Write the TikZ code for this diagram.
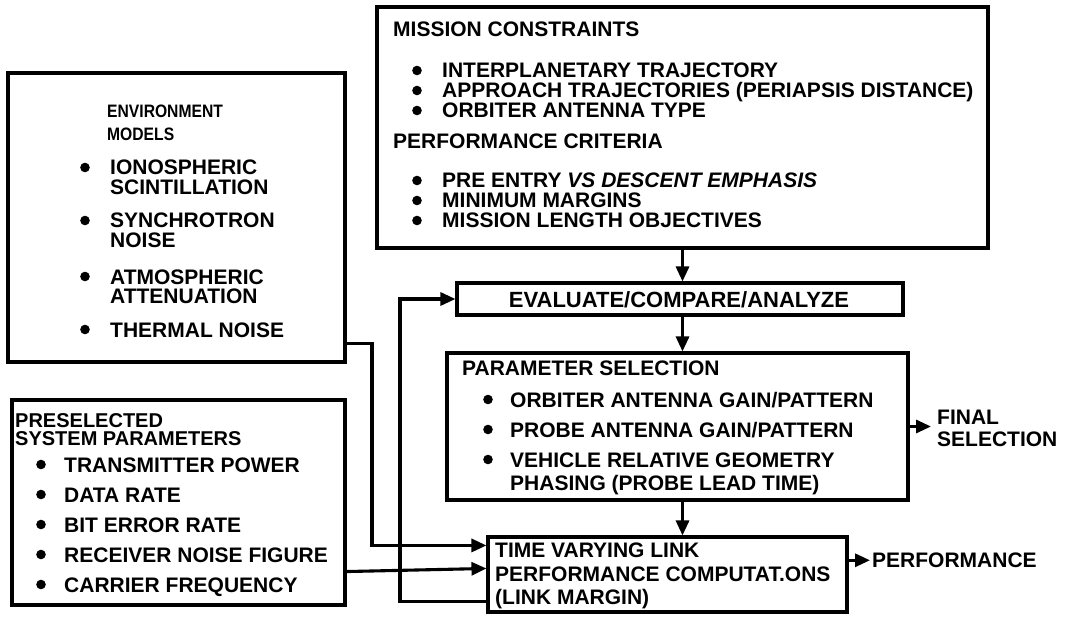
\documentclass[tikz,border=0pt]{standalone}
\usepackage{fontspec}
\setmainfont{Liberation Sans}
\newfontfamily\hdrfont{Liberation Sans}[FakeStretch=0.87]
\usetikzlibrary{arrows.meta,calc}
\begin{document}
\begin{tikzpicture}[x=1pt,y=-1pt,
  box/.style={draw, line width=3.1pt, inner sep=0pt, rectangle},
  txt/.style={inner sep=0pt, anchor=base west, font=\fontsize{21}{21}\selectfont\bfseries},
  hdr/.style={txt, font=\hdrfont\fontsize{18}{18}\selectfont\bfseries},
  conn/.style={line width=3.1pt, -{Triangle[length=15pt,width=13pt]}},
  bul/.style={fill=black}
]
\path[use as bounding box] (0,0) rectangle (1067,617);

% ---------------- boxes
\node[box, minimum width=337pt, minimum height=289pt] (env) at (176.5,217.5) {};
\node[box, minimum width=611pt, minimum height=241pt] (mission) at (682.5,127.5) {};
\node[box, minimum width=446pt, minimum height=32pt] (eval) at (680,299) {};
\node[box, minimum width=461pt, minimum height=147pt] (param) at (677.5,426.5) {};
\node[box, minimum width=359pt, minimum height=75pt] (tvl) at (667.5,574.5) {};
\node[box, minimum width=333pt, minimum height=205pt] (pre) at (178.5,502.5) {};

% ---------------- environment models
\node[hdr] (envh1) at (107,118) {ENVIRONMENT};
\node[hdr] (envh2) at (107,141) {MODELS};
\node[txt] (env1a) at (110,175) {IONOSPHERIC};
\node[txt] (env1b) at (110,195) {SCINTILLATION};
\node[txt] (env2a) at (110,228) {SYNCHROTRON};
\node[txt] (env2b) at (110,248) {NOISE};
\node[txt] (env3a) at (110,284) {ATMOSPHERIC};
\node[txt] (env3b) at (110,304) {ATTENUATION};
\node[txt] (env4a) at (110,337) {THERMAL NOISE};
\foreach \y in {175,228,284,337} \fill[bul] (85,\y-7.5) circle (4.8pt);

% ---------------- mission constraints
\node[txt] (mh1) at (393,37) {MISSION CONSTRAINTS};
\node[txt] (m1) at (442,78) {INTERPLANETARY TRAJECTORY};
\node[txt] (m2) at (442,98) {APPROACH TRAJECTORIES (PERIAPSIS DISTANCE)};
\node[txt] (m3) at (442,118) {ORBITER ANTENNA TYPE};
\node[txt] (mh2) at (393,149) {PERFORMANCE CRITERIA};
\node[txt] (m4) at (442,188) {PRE ENTRY {\itshape VS DESCENT EMPHASIS}};
\node[txt] (m5) at (442,208) {MINIMUM MARGINS};
\node[txt] (m6) at (442,228) {MISSION LENGTH OBJECTIVES};
\foreach \y in {78,98,118,188,208,228} \fill[bul] (417,\y-7.5) circle (4.8pt);

% ---------------- evaluate
\node[txt, anchor=base, font=\fontsize{22}{22}\selectfont\bfseries] (evt) at (679,307) {EVALUATE/COMPARE/ANALYZE};

% ---------------- parameter selection
\node[txt] (ph) at (462,375) {PARAMETER SELECTION};
\node[txt] (p1) at (510,407) {ORBITER ANTENNA GAIN/PATTERN};
\node[txt] (p2) at (510,437) {PROBE ANTENNA GAIN/PATTERN};
\node[txt] (p3a) at (510,467) {VEHICLE RELATIVE GEOMETRY};
\node[txt] (p3b) at (510,490) {PHASING (PROBE LEAD TIME)};
\foreach \y in {407,437,467} \fill[bul] (488,\y-7.5) circle (4.8pt);

% ---------------- time varying link
\node[txt] (t1) at (495,557) {TIME VARYING LINK};
\node[txt] (t2) at (495,581) {PERFORMANCE COMPUTAT.ONS};
\node[txt] (t3) at (495,604) {(LINK MARGIN)};

% ---------------- preselected
\node[txt, font=\fontsize{20}{20}\selectfont\bfseries] (prh1) at (15,427) {PRESELECTED};
\node[txt, font=\fontsize{20}{20}\selectfont\bfseries] (prh2) at (15,445) {SYSTEM PARAMETERS};
\node[txt] (pr1) at (64,472) {TRANSMITTER POWER};
\node[txt] (pr2) at (64,502) {DATA RATE};
\node[txt] (pr3) at (64,532) {BIT ERROR RATE};
\node[txt] (pr4) at (64,562) {RECEIVER NOISE FIGURE};
\node[txt] (pr5) at (64,592) {CARRIER FREQUENCY};
\foreach \y in {472,502,532,562,592} \fill[bul] (41,\y-7.5) circle (4.8pt);

% ---------------- outputs
\node[txt, anchor=west, align=left, font=\fontsize{21}{22}\selectfont\bfseries] (final) at (937,428) {FINAL\\SELECTION};
\node[txt] (perf) at (872,567.5) {PERFORMANCE};

% ---------------- connectors
\coordinate (envx) at (372,0);
\coordinate (fbx) at (400,0);
\draw[conn] (mission.south) -- (mission.south |- eval.north);
\draw[conn] (eval.south -| mission.south) -- (param.north -| mission.south);
\draw[conn] (param.south -| mission.south) -- (tvl.north -| mission.south);
\draw[conn] ([yshift=20pt]env.south east) coordinate (e1) -- (e1 -| envx) |- ([yshift=-10pt]tvl.north west);
\draw[conn] ([yshift=35pt]pre.south east) -- ([yshift=-33pt]tvl.north west);
\draw[conn] ([yshift=-66pt]tvl.north west) -| (fbx |- eval.west) -- (eval.west);
\draw[conn] (param.east) -- ([xshift=-6pt]param.east -| final.west);
\draw[conn] (tvl.east |- perf.west) -- ([xshift=-2pt]perf.west);
\end{tikzpicture}
\end{document}
